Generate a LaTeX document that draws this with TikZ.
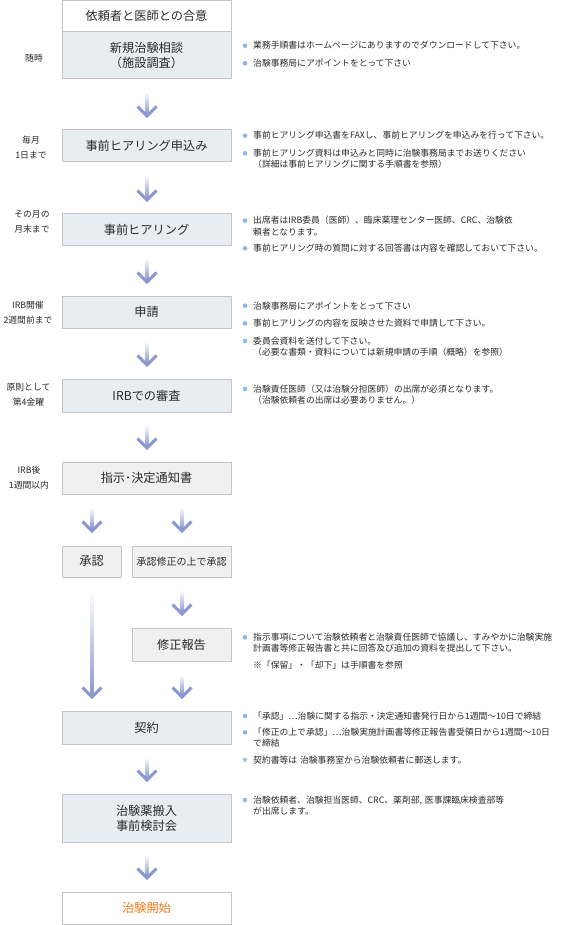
\documentclass[tikz,border=0pt]{standalone}
\usepackage{fontspec}
\setmainfont{Noto Sans CJK JP}
\usetikzlibrary{calc}
\definecolor{boxline}{HTML}{C6C6C6}
\definecolor{bluefill}{HTML}{E8ECF3}
\definecolor{grayfill}{HTML}{F0F0F0}
\definecolor{arrowc}{HTML}{8A98D2}
\definecolor{bulletc}{HTML}{8CB9E6}
\definecolor{startc}{HTML}{F07A1E}
\definecolor{textc}{HTML}{2A2A2A}
\newcommand\flowarrow[2]{%
  \shade[top color=white,bottom color=arrowc] ($(#1)+(-1.5,0)$) rectangle ($(#2)+(1.5,-2)$);
  \draw[arrowc,line width=3pt,miter limit=4] ($(#2)+(-9.5,-9.5)$) -- (#2) -- ($(#2)+(9.5,-9.5)$);
}
\begin{document}
\begin{tikzpicture}[x=1pt,y=-1pt,
  every node/.style={text=textc},
  box/.style={draw=boxline,line width=1pt,inner sep=0pt,outer sep=0pt,align=center,font=\fontsize{12.2}{15}\selectfont},
  bluebox/.style={box,fill=bluefill},
  graybox/.style={box,fill=grayfill},
  whitebox/.style={box,fill=white},
  wide/.style={minimum width=169pt},
  when/.style={align=center,inner sep=0pt,font=\fontsize{8.8}{15}\selectfont},
  note/.style={anchor=base west,inner sep=0pt,text width=310pt,align=left,font=\fontsize{8.8}{11}\selectfont},
  dot/.style={circle,fill=bulletc,inner sep=0pt,minimum size=4.6pt},
]
\useasboundingbox[fill=white] (0,0) rectangle (560,925);

% main boxes
\node[whitebox,wide,minimum height=31.5pt] (b1) at (146.5,16.25) {依頼者と医師との合意};
\node[bluebox,wide,minimum height=47pt] (b2) at (146.5,55.5) {新規治験相談\\（施設調査）};
\node[bluebox,wide,minimum height=32pt] (b3) at (146.5,146) {事前ヒアリング申込み};
\node[bluebox,wide,minimum height=31pt] (b4) at (146.5,229.5) {事前ヒアリング};
\node[bluebox,wide,minimum height=32pt] (b5) at (146.5,312) {申請};
\node[bluebox,wide,minimum height=33pt] (b6) at (146.5,395.5) {IRBでの審査};
\node[graybox,wide,minimum height=32pt] (b7) at (146.5,478) {指示･決定通知書};
\node[graybox,minimum width=59pt,minimum height=31pt] (b8) at (91.5,561.5) {承認};
\node[graybox,minimum width=99pt,minimum height=31pt,font=\fontsize{10}{12}\selectfont] (b9) at (181.5,561.5) {承認修正の上で承認};
\node[graybox,minimum width=99pt,minimum height=33pt] (b10) at (181.5,644.5) {修正報告};
\node[bluebox,wide,minimum height=33pt] (b11) at (146.5,727.5) {契約};
\node[bluebox,wide,minimum height=48pt] (b12) at (146.5,818) {治験薬搬入\\事前検討会};
\node[whitebox,wide,minimum height=32pt,text=startc] (b13) at (146.5,908) {治験開始};

% arrows
\coordinate (a1s) at (147,92);  \coordinate (a1e) at (147,116);
\coordinate (a2s) at (147,175); \coordinate (a2e) at (147,200);
\coordinate (a3s) at (147,258); \coordinate (a3e) at (147,282);
\coordinate (a4s) at (147,341); \coordinate (a4e) at (147,365);
\coordinate (a5s) at (147,425); \coordinate (a5e) at (147,448);
\coordinate (a6s) at (92,507);  \coordinate (a6e) at (92,531);
\coordinate (a7s) at (182,507); \coordinate (a7e) at (182,531);
\coordinate (a8s) at (182,590); \coordinate (a8e) at (182,614);
\coordinate (a9s) at (92,590);  \coordinate (a9e) at (92,697);
\coordinate (a10s) at (182,674); \coordinate (a10e) at (182,697);
\coordinate (a11s) at (147,757); \coordinate (a11e) at (147,780);
\coordinate (a12s) at (147,855); \coordinate (a12e) at (147,878);
\flowarrow{a1s}{a1e}
\flowarrow{a2s}{a2e}
\flowarrow{a3s}{a3e}
\flowarrow{a4s}{a4e}
\flowarrow{a5s}{a5e}
\flowarrow{a6s}{a6e}
\flowarrow{a7s}{a7e}
\flowarrow{a8s}{a8e}
\flowarrow{a9s}{a9e}
\flowarrow{a10s}{a10e}
\flowarrow{a11s}{a11e}
\flowarrow{a12s}{a12e}

% timing labels
\node[when] (w1) at (34,58) {随時};
\node[when] (w2) at (31,148) {毎月\\1日まで};
\node[when] (w3) at (32,221.5) {その月の\\月末まで};
\node[when] (w4) at (28,312.5) {IRB開催\\2週間前まで};
\node[when] (w5) at (28.5,394.5) {原則として\\第4金曜};
\node[when] (w6) at (29,478) {IRB後\\1週間以内};

% notes
\node[dot] (d1) at (245,45.7) {};
\node[note] (n1) at (253,49) {業務手順書はホームページにありますのでダウンロードして下さい。};
\node[dot] (d2) at (245,63.3) {};
\node[note] (n2) at (253,66.6) {治験事務局にアポイントをとって下さい};

\node[dot] (d3) at (245,135.7) {};
\node[note] (n3) at (253,139) {事前ヒアリング申込書をFAXし、事前ヒアリングを申込みを行って下さい。};
\node[dot] (d4) at (245,153.3) {};
\node[note] (n4) at (253,156.6) {事前ヒアリング資料は申込みと同時に治験事務局までお送りください\\（詳細は事前ヒアリングに関する手順書を参照）};

\node[dot] (d5) at (245,220.7) {};
\node[note] (n5) at (253,224) {出席者はIRB委員（医師）、臨床薬理センター医師、CRC、治験依\\頼者となります。};
\node[dot] (d6) at (245,248.3) {};
\node[note] (n6) at (253,251.6) {事前ヒアリング時の質問に対する回答書は内容を確認しておいて下さい。};

\node[dot] (d7) at (245,305.7) {};
\node[note] (n7) at (253,309) {治験事務局にアポイントをとって下さい};
\node[dot] (d8) at (245,323.3) {};
\node[note] (n8) at (253,326.6) {事前ヒアリングの内容を反映させた資料で申請して下さい。};
\node[dot] (d9) at (245,341) {};
\node[note] (n9) at (253,344.3) {委員会資料を送付して下さい。\\（必要な書類・資料については新規申請の手順（概略）を参照）};

\node[dot] (d10) at (245,389) {};
\node[note] (n10) at (253,392.3) {治験責任医師（又は治験分担医師）の出席が必須となります。\\（治験依頼者の出席は必要ありません。）};

\node[dot] (d11) at (245,637.3) {};
\node[note] (n11) at (253,640.6) {指示事項について治験依頼者と治験責任医師で協議し、すみやかに治験実施\\計画書等修正報告書と共に回答及び追加の資料を提出して下さい。};
\node[note] (n12) at (253,668.3) {※「保留」・「却下」は手順書を参照};

\node[dot] (d13) at (245,716) {};
\node[note] (n13) at (253,719.3) {「承認」…治験に関する指示・決定通知書発行日から1週間～10日で締結};
\node[dot] (d14) at (245,732.3) {};
\node[note] (n14) at (253,735.6) {「修正の上で承認」…治験実施計画書等修正報告書受領日から1週間～10日\\で締結};
\node[inner sep=0pt,text=bulletc,font=\fontsize{7}{7}\selectfont] (st) at (245,760) {★};
\node[note] (n15) at (253,763.3) {契約書等は 治験事務室から治験依頼者に郵送します。};

\node[dot] (d16) at (245,800) {};
\node[note] (n16) at (253,803.3) {治験依頼者、治験担当医師、CRC、薬剤部, 医事課臨床検査部等\\が出席します。};
\end{tikzpicture}
\end{document}
